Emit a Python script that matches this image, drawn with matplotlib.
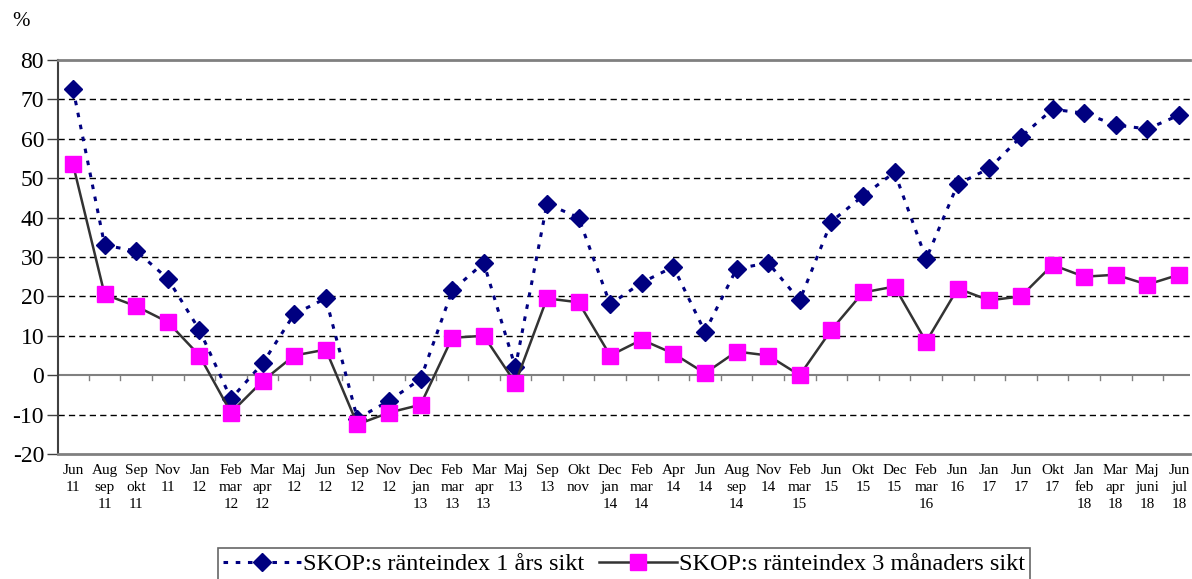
import matplotlib.pyplot as plt
import numpy as np

# Tick labels (one per survey)
labels = ["Jun\n11", "Aug\nsep\n11", "Sep\nokt\n11", "Nov\n11", "Jan\n12",
          "Feb\nmar\n12", "Mar\napr\n12", "Maj\n12", "Jun\n12", "Sep\n12",
          "Nov\n12", "Dec\njan\n13", "Feb\nmar\n13", "Mar\napr\n13", "Maj\n13",
          "Sep\n13", "Okt\nnov", "Dec\njan\n14", "Feb\nmar\n14", "Apr\n14",
          "Jun\n14", "Aug\nsep\n14", "Nov\n14", "Feb\nmar\n15", "Jun\n15",
          "Okt\n15", "Dec\n15", "Feb\nmar\n16", "Jun\n16", "Jan\n17",
          "Jun\n17", "Okt\n17", "Jan\nfeb\n18", "Mar\napr\n18", "Maj\njuni\n18",
          "Jun\njul\n18"]

# SKOP:s ränteindex 1 års sikt
index_1yr = [72.7, 33, 31.5, 24.5, 11.5, -6, 3, 15.5, 19.5, -11,
             -6.5, -1, 21.5, 28.5, 2, 43.5, 40, 18, 23.5, 27.5,
             11, 27, 28.5, 19, 39, 45.5, 51.5, 29.5, 48.5, 52.5,
             60.5, 67.5, 66.5, 63.5, 62.5, 66]

# SKOP:s ränteindex 3 månaders sikt
index_3m = [53.5, 20.5, 17.5, 13.5, 5, -9.5, -1.5, 5, 6.5, -12.5,
            -9.5, -7.5, 9.5, 10, -2, 19.5, 18.5, 5, 9, 5.5,
            0.5, 6, 5, 0, 11.5, 21, 22.5, 8.5, 22, 19,
            20, 28, 25, 25.5, 23, 25.5]

plt.rcParams['font.family'] = ['Liberation Serif', 'DejaVu Serif']
plt.rcParams['axes.unicode_minus'] = False

fig = plt.figure(figsize=(11.92, 5.79), dpi=100)
ax = fig.add_axes([58 / 1192, 1 - 454 / 579, 1132 / 1192, 394 / 579])

x = np.arange(len(labels))

# Dashed grid lines
for y in range(-10, 80, 10):
    if y == 0:
        continue
    ax.axhline(y, color='black', lw=1, ls=(0, (4.5, 3)), zorder=1)

# Zero line with category ticks
ax.axhline(0, color='#808080', lw=1.5, zorder=1)
for b in np.arange(0.5, len(labels), 1):
    ax.plot([b, b], [0, -1.1], color='#808080', lw=1, zorder=1)

l1, = ax.plot(x, index_1yr, color='#000080', lw=2.2, ls=(0, (1.5, 2.5)),
              marker='D', markersize=9, markerfacecolor='#000080',
              markeredgecolor='#000080', zorder=3,
              label="SKOP:s ränteindex 1 års sikt")
l2, = ax.plot(x, index_3m, color='#333333', lw=1.8, ls='-',
              marker='s', markersize=11, markerfacecolor='#ff00ff',
              markeredgecolor='#ff00ff', zorder=4,
              label="SKOP:s ränteindex 3 månaders sikt")

ax.set_xlim(-0.475, 35.35)
ax.set_ylim(-20, 80)
ax.set_yticks(range(-20, 81, 10))
ax.tick_params(axis='y', labelsize=17, length=8, width=1, color='#404040', pad=2)
ax.set_xticks(x)
ax.set_xticklabels(labels, fontsize=11, linespacing=1.4, va='top')
ax.tick_params(axis='x', length=0, pad=7)

ax.spines['right'].set_visible(False)
ax.spines['top'].set_color('#808080')
ax.spines['top'].set_linewidth(2)
ax.spines['bottom'].set_color('#808080')
ax.spines['bottom'].set_linewidth(2)
ax.spines['left'].set_color('#404040')
ax.spines['left'].set_linewidth(1.5)

fig.text(12 / 1192, 1 - 22 / 579, "%", fontsize=15, va='center', ha='left')

leg = fig.legend(handles=[l1, l2], loc='center', bbox_to_anchor=(624 / 1192, 1 - 564 / 579),
                 ncol=2, fontsize=17.5, frameon=True, fancybox=False, borderpad=0.2,
                 handlelength=3.2, handletextpad=0.1, columnspacing=0.6,
                 borderaxespad=0)
leg.get_frame().set_edgecolor('#404040')
leg.get_frame().set_linewidth(1.2)

fig.savefig('out.png', dpi=100)
